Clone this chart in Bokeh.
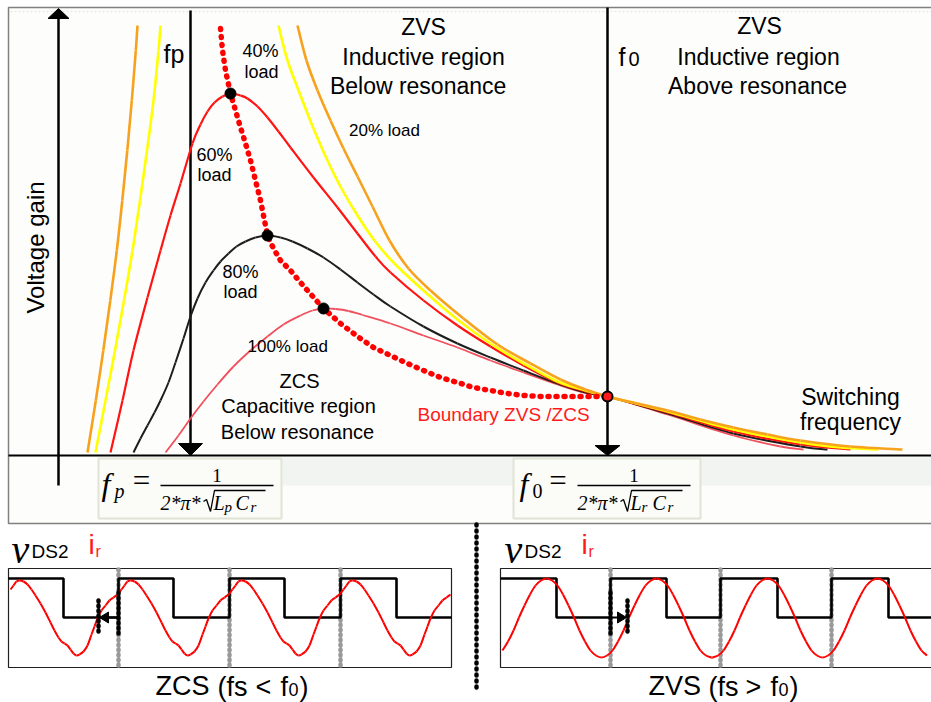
import numpy as np
from bokeh.plotting import figure
from bokeh.models import Range1d
from bokeh.embed import file_html
from bokeh.resources import INLINE
from bokeh.core.properties import value

# ---------------- values (screen-like units, y grows downward) ----------------
# Voltage-gain curves (x ~ switching frequency, y ~ voltage gain), one per load level
g20_left_x = [87, 95.3, 102.8, 109.8, 116.3, 121.8, 126.8, 131.3, 135.3, 137]
g20_left_y = [452, 400, 350, 300, 250, 200, 150, 100, 50, 25]
g20_right_x = [297, 306, 317, 330, 343, 357, 372, 389, 408, 430, 463, 497, 530, 560, 585, 607,
               637, 667, 700, 733, 767, 800, 850, 902]
g20_right_y = [25, 60, 90, 120, 148, 176, 206, 240, 268, 290, 318, 344, 363, 379, 389, 396,
               403, 410, 419, 427, 434, 440, 446, 449]

g40_left_x = [95, 105, 114.5, 123.5, 132, 139.5, 146.5, 153, 158, 160]
g40_left_y = [452, 400, 350, 300, 250, 200, 150, 100, 50, 25]
g40_right_x = [278, 287, 300, 313, 327, 341, 357, 374, 393, 423, 457, 490, 523, 557, 585, 607,
               667, 733, 800, 840, 878]
g40_right_y = [25, 60, 95, 128, 160, 188, 215, 240, 262, 290, 319, 343, 363, 381, 390, 396,
               411, 429, 442, 447, 449]

g60_x = [110, 122, 133, 147, 160, 170, 180, 192, 200, 207, 214, 222, 230, 240, 247, 257, 267, 278, 290, 313,
         337, 357, 375, 390, 423, 457, 490, 523, 557, 585, 607, 667, 733, 800, 850]
g60_y = [452, 400, 350, 297, 250, 215, 183, 143, 124, 111, 102, 96, 93, 95, 98, 106, 117, 131, 147, 177,
         207, 233, 256, 272, 300, 325, 346, 365, 382, 391, 396, 412, 431, 444, 449]

g80_x = [133, 140, 147, 154, 160, 168, 175, 183, 190, 197, 205, 213, 220, 228, 236, 245, 255, 267, 280, 292,
         307, 323, 340, 357, 373, 390, 423, 457, 490, 523, 557, 585, 607, 667, 733, 800, 827]
g80_y = [452, 438, 425, 412, 400, 382, 362, 338, 316, 298, 282, 270, 261, 253, 246, 241, 237, 235, 237, 241,
         248, 257, 269, 282, 294, 306, 326, 343, 357, 370, 383, 392, 396, 413, 433, 446, 449]

g100_x = [165, 178, 190, 203, 217, 233, 250, 267, 283, 300, 312, 323, 335, 348, 362, 390, 423, 457, 490, 523,
          557, 583, 607, 667, 733, 780, 803]
g100_y = [452, 435, 418, 401, 384, 366, 350, 336, 324, 315, 310, 308, 308.5, 310.5, 314.5, 323, 335, 347, 360,
          372, 384, 392, 396, 414, 435, 446, 449]

# ZVS / ZCS boundary (locus of the gain peaks)
bnd_x = [220, 222, 225, 230, 235, 240, 245, 250, 255, 260, 267, 273, 280, 290, 300, 307, 322, 340, 357, 373, 390,
         407, 423, 440, 457, 473, 490, 507, 523, 540, 557, 573, 590, 607]
bnd_y = [28, 50, 70, 93, 110, 127, 143, 160, 180, 200, 235, 248, 260, 270, 282, 290, 307, 323, 336, 347, 355,
         363, 370, 377, 382, 387, 390, 393, 395, 396, 396, 396, 396, 396]
peak_x = [230, 267, 323]
peak_y = [93, 235, 308]
f0_pt_x, f0_pt_y = [607], [396]

fp_x, f0_x = 190, 607            # parallel and series resonance
axis_y, yaxis_x = 455, 58

# Waveforms -- ZCS (fs < f0)
zcs_box = (8, 451)
zcs_edges = [63, 118, 173, 229, 284, 340, 396]        # switching instants of vDS2
zcs_rise = [7, 118, 229, 340]                         # rising edges (period starts)
zcs_t = [0, 3, 6, 9, 12, 16, 20, 24, 28, 33, 38, 43, 47, 51, 54, 57, 60, 63, 66, 69, 72, 76, 80, 84, 87, 90, 94,
         98, 102, 106, 110]
zcs_i = [593, 589, 585, 581, 580, 581, 584, 589, 595, 603, 612, 622, 630, 637, 641, 643, 645, 649, 653, 655, 654,
         651, 645, 634, 626, 618, 610, 605, 600, 597, 594]
# Waveforms -- ZVS (fs > f0)
zvs_box = (500, 935)
zvs_edges = [556, 610, 666, 720, 777, 831, 888]
zvs_trough = [491, 601, 712, 822]
zvs_t = [0, 5.5, 11, 16.5, 22, 27.5, 33, 38.5, 44, 49.5, 55, 60.5, 66, 71.5, 77, 82.5, 88, 93.5, 99, 104.5, 110]
zvs_i = [657, 655, 650, 641, 630, 617, 605, 594, 585, 580, 578, 580, 585, 594, 605, 617, 630, 641, 650, 655, 657]
v_high, v_low = 578, 617
zcs_marks = [98, 118]
zvs_marks = [627, 610]
zcs_grey = [118, 229, 340]
zvs_grey = [610, 720, 831]

# ---------------- figure ----------------
W, H = 931, 702
p = figure(width=W, height=H, x_range=Range1d(0, W), y_range=Range1d(H, 0),
           output_backend="svg", toolbar_location=None, min_border=0,
           x_axis_location=None, y_axis_location=None)
p.grid.visible = False
p.outline_line_color = None
p.background_fill_color = "white"
p.border_fill_color = "white"

SANS = "Liberation Sans"
SERIF = "Liberation Serif"


def txt(x, y, s, size, color="black", align="left", font=SANS, style="normal", angle=0.0):
    # y is the visual centre of the text
    p.text(x=[x], y=[y], text=[s], text_font=value(font), text_font_size=f"{size}px", text_color=color,
           text_align=align, text_baseline="middle", text_font_style=style, angle=angle)


def tri(tip_x, tip_y, dx, dy, half):
    bx, by = tip_x - dx * half[0], tip_y - dy * half[0]
    nx, ny = -dy, dx
    return [tip_x, bx + nx * half[1], bx - nx * half[1]], [tip_y, by + ny * half[1], by - ny * half[1]]


def smooth(xs, ys, **kw):
    # draw a smooth curve through the read points with cubic Bezier segments
    n = len(xs)
    d = dict(x0=[], y0=[], x1=[], y1=[], cx0=[], cy0=[], cx1=[], cy1=[])
    for i in range(n - 1):
        a, b, c, e = max(i - 1, 0), i, i + 1, min(i + 2, n - 1)
        d["x0"].append(xs[b]); d["y0"].append(ys[b]); d["x1"].append(xs[c]); d["y1"].append(ys[c])
        d["cx0"].append(xs[b] + (xs[c] - xs[a]) / 6); d["cy0"].append(ys[b] + (ys[c] - ys[a]) / 6)
        d["cx1"].append(xs[c] - (xs[e] - xs[b]) / 6); d["cy1"].append(ys[c] - (ys[e] - ys[b]) / 6)
    p.bezier(**d, **kw)


# main frame
p.quad(left=[8], right=[935], top=[7], bottom=[523], fill_color="#fdfdfb", line_color="#808080", line_width=1.5)
p.line([10, 931], [11, 11], line_color="#e4e4e4", line_width=1, line_dash="2 2")
p.quad(left=[282], right=[931], top=[457], bottom=[485], fill_color="#f1f4f0", line_color=None)

# formula boxes
p.quad(left=[98, 513], right=[281, 700], top=[458, 458], bottom=[518, 518], fill_color="#fbfcf8",
       line_color="#dfe4d6", line_width=2)

# axes
p.line([yaxis_x, yaxis_x], [485, 16], line_color="black", line_width=2.5)
ax, ay = tri(yaxis_x, 8, 0, -1, (10, 10.5))
p.patch(ax, ay, fill_color="black", line_color="black")
p.line([8, 931], [axis_y, axis_y], line_color="black", line_width=2.2)

# resonance frequency markers
for fx, top, hl, hw in [(fp_x, 10, 12, 12), (f0_x, 7, 10, 12.5)]:
    p.line([fx, fx], [top, axis_y - hl + 1], line_color="black", line_width=2.5)
    tx, ty = tri(fx, axis_y, 0, 1, (hl, hw))
    p.patch(tx, ty, fill_color="black", line_color="black")

# gain curves
smooth(g100_x, g100_y, line_color="#f0505e", line_width=1.8)
smooth(g80_x, g80_y, line_color="#1e1e1e", line_width=2)
smooth(g60_x, g60_y, line_color="#ff1414", line_width=2.2)
smooth(g40_left_x, g40_left_y, line_color="#ffff00", line_width=2.6)
smooth(g40_right_x, g40_right_y, line_color="#ffff00", line_width=2.6)
smooth(g20_left_x, g20_left_y, line_color="#f7a21e", line_width=2.6)
smooth(g20_right_x, g20_right_y, line_color="#f7a21e", line_width=2.6)

# boundary
p.line(bnd_x, bnd_y, line_color="#ff0000", line_width=5.5, line_dash="1 7", line_cap="round")
p.scatter(peak_x, peak_y, size=11, fill_color="black", line_color="black")
p.scatter(f0_pt_x, f0_pt_y, size=10, fill_color="#ff1a1a", line_color="black", line_width=2)

# region labels
txt(423, 26, "ZVS", 23, align="center")
txt(423, 56, "Inductive region", 23, align="center")
txt(424, 85, "Below   resonance", 23, align="center")
txt(759, 25, "ZVS", 23, align="center")
txt(758, 56, "Inductive region", 23, align="center")
txt(757, 85, "Above resonance", 23, align="center")
txt(163, 53, "fp", 25)
txt(618, 56, "f", 25)
txt(628, 58, "0", 20)

txt(260, 50, "40%", 18, align="center")
txt(261, 71, "load", 18, align="center")
txt(214, 154, "60%", 18, align="center")
txt(214, 174, "load", 18, align="center")
txt(384, 130, "20% load", 17, align="center")
txt(240, 271, "80%", 18, align="center")
txt(240, 291, "load", 18, align="center")
txt(247, 346, "100% load", 17)

txt(299, 380, "ZCS", 20, align="center")
txt(298, 405, "Capacitive region", 20, align="center")
txt(297, 431, "Below resonance", 20, align="center")
txt(417, 414, "Boundary ZVS /ZCS", 19, color="#ff1a1a")
txt(850, 396, "Switching", 23, align="center")
txt(850, 421, "frequency", 23, align="center")
txt(35, 247, "Voltage gain", 24, align="center", angle=np.pi / 2)

# formulas
for (x0, sub, lsub, eq_dx) in [(101, "p", "p", 40), (519, "0", "r", 38.5)]:
    txt(x0, 483, "f", 32, font=SERIF, style="italic")
    txt(x0 + 13, 490, sub, 20, font=SERIF, style="italic" if sub == "p" else "normal")
    txt(x0 + eq_dx, 480, "=", 31, font=SERIF, align="center")
    bx0 = x0 + 59 - (1 if sub == "0" else 0)
    bx1 = bx0 + 113
    p.line([bx0, bx1], [485, 485], line_color="black", line_width=1.6)
    txt((bx0 + bx1) / 2, 475, "1", 19, font=SERIF, align="center")
    txt(bx0, 502, "2*π*", 20, font=SERIF, style="italic")
    p.line([bx0 + 43, bx0 + 46, bx0 + 50, bx0 + 54, bx1 - 8], [501, 499, 511, 490, 490],
           line_color="black", line_width=1.3)
    txt(bx0 + 53, 502, "L", 20, font=SERIF, style="italic")
    txt(bx0 + 64, 506, lsub, 15, font=SERIF, style="italic")
    txt(bx0 + 75, 502, "C", 20, font=SERIF, style="italic")
    txt(bx0 + 90, 506, "r", 15, font=SERIF, style="italic")


# ---------------- waveforms ----------------
def square(box, edges):
    xs, ys = [box[0]], [v_high]
    lvl = v_high
    for e in edges:
        xs += [e, e]
        nxt = v_low if lvl == v_high else v_high
        ys += [lvl, nxt]
        lvl = nxt
    xs.append(min(box[1], 931))
    ys.append(lvl)
    return xs, ys


def tile(starts, t, y, lo, hi):
    xs, ys = [], []
    for s in starts:
        for ti, yi in zip(t, y):
            x = s + ti
            if lo <= x <= hi and (not xs or x > xs[-1]):
                xs.append(x)
                ys.append(yi)
    return xs, ys


for box, edges, starts, t, cur, grey, marks, lab_x in [
        (zcs_box, zcs_edges, zcs_rise, zcs_t, zcs_i, zcs_grey, zcs_marks, 12),
        (zvs_box, zvs_edges, zvs_trough, zvs_t, zvs_i, zvs_grey, zvs_marks, 505)]:
    p.quad(left=[box[0]], right=[box[1]], top=[568], bottom=[667], fill_color="white", line_color="#202020",
           line_width=1.2)
    for g in grey:
        p.line([g, g], [569, 666], line_color="#999999", line_width=4.5, line_dash="1 4", line_cap="round")
    sx, sy = square(box, edges)
    p.line(sx, sy, line_color="black", line_width=2.6)
    cx, cy = tile(starts, t, cur, box[0], min(box[1], 931))
    smooth(cx, cy, line_color="#ff0000", line_width=2)
    m0, m1 = marks
    p.line([m0, m0], [600, 635], line_color="black", line_width=4.5, line_dash="1 4", line_cap="round")
    p.line([m1, m1], [592, 637], line_color="black", line_width=4.5, line_dash="1 4", line_cap="round")
    d = 1 if m0 > m1 else -1
    p.line([m1, m0 - d * 6], [v_low, v_low], line_color="black", line_width=2)
    hx, hy = tri(m0 - d * 1, v_low, d, 0, (9, 5.5))
    p.patch(hx, hy, fill_color="black", line_color="black")
    txt(lab_x - 1, 549, "ν", 40, font=SERIF, style="italic")
    txt(lab_x + 19, 551, "DS2", 19)
    txt(lab_x + 76, 544, "i", 28, color="#ff1a1a")
    txt(lab_x + 83, 551, "r", 16, color="#ff1a1a")

# bottom captions
txt(155, 685, "ZCS", 27)
txt(217, 686, "(fs", 27)
txt(263, 686, "<", 27, align="center")
txt(280, 686, "f", 27)
txt(288, 689, "0", 18)
txt(299, 686, ")", 27)
txt(648, 685, "ZVS", 27)
txt(708, 686, "(fs", 27)
txt(753, 686, ">", 27, align="center")
txt(770, 686, "f", 27)
txt(778, 689, "0", 18)
txt(789, 686, ")", 27)

# separator between the two waveform panels
p.line([476, 476], [524, 692], line_color="black", line_width=4.5, line_dash="1 5", line_cap="round")

open("out.html", "w").write(file_html(p, INLINE))
